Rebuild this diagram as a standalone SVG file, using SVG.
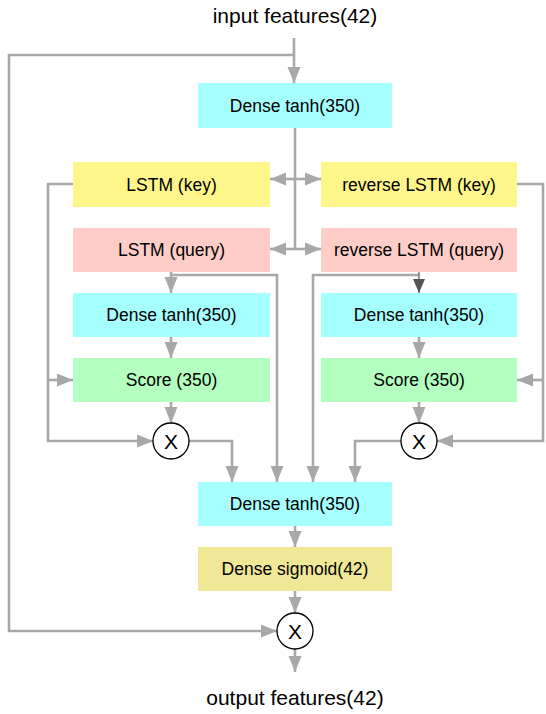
<svg xmlns="http://www.w3.org/2000/svg" width="546" height="714" viewBox="0 0 546 714">
<style>
text{font-family:"Liberation Sans",Arial,sans-serif;fill:#000;text-anchor:middle}
.lbl{font-size:17.5px}
.big{font-size:21px}
.cx{font-size:21px}
.c{fill:none;stroke:#a8a8a8;stroke-width:2.6;stroke-linejoin:miter}
.a{marker-end:url(#arr)}
.dk{fill:none;stroke:#555;stroke-width:1.2;marker-end:url(#arrd)}
.dense{fill:#a6ffff}
.key{fill:#fff68b}
.qry{fill:#ffcdc7}
.score{fill:#b3ffbf}
.sig{fill:#f0e896}
.circ{fill:#fff;stroke:#000;stroke-width:1.3}
</style>
<defs>
<marker id="arr" markerUnits="userSpaceOnUse" markerWidth="17" markerHeight="14" refX="16" refY="6.5" orient="auto">
<path d="M0,0 L16,6.5 L0,13 z" fill="#a8a8a8"/>
</marker>
<marker id="arrd" markerUnits="userSpaceOnUse" markerWidth="15" markerHeight="12" refX="14" refY="6" orient="auto">
<path d="M0,0 L14,6 L0,12 z" fill="#555"/>
</marker>
</defs>

<text class="big" x="295" y="23">input features(42)</text>
<text class="big" x="295" y="705">output features(42)</text>

<g id="connectors">
<path class="c a" d="M294,38 V83"/>
<path class="c a" d="M294,55 H9 V631 H277"/>
<path class="c" d="M295,128 V249"/>
<path class="c a" d="M295,179 H270"/>
<path class="c a" d="M295,179 H321"/>
<path class="c a" d="M295,249 H270"/>
<path class="c a" d="M295,249 H321"/>
<path class="c a" d="M73,184 H48 V441 H153"/>
<path class="c a" d="M48,380 H73"/>
<path class="c a" d="M517,184 H543 V441 H437"/>
<path class="c a" d="M543,380 H517"/>
<path class="c a" d="M171,272 V293"/>
<path class="c a" d="M171,275 H277 V482"/>
<path class="c a" d="M419,275 H313 V482"/>
<path class="dk" d="M419,272 V293"/>
<path class="c a" d="M171,337 V358"/>
<path class="c a" d="M419,337 V358"/>
<path class="c a" d="M171,402 V423"/>
<path class="c a" d="M419,402 V423"/>
<path class="c a" d="M189,441 H232 V482"/>
<path class="c a" d="M401,441 H355 V482"/>
<path class="c a" d="M295,526 V547"/>
<path class="c a" d="M295,591 V613"/>
<path class="c a" d="M295,649 V672"/>
</g>

<g id="dense_top"><rect class="dense" x="198" y="83" width="194" height="45"/><text class="lbl" x="295" y="111.5">Dense tanh(350)</text></g>
<g id="lstm_key"><rect class="key" x="73" y="162" width="197" height="45"/><text class="lbl" x="171.5" y="190.5">LSTM (key)</text></g>
<g id="rev_lstm_key"><rect class="key" x="321" y="162" width="196" height="45"/><text class="lbl" x="419" y="190.5">reverse LSTM (key)</text></g>
<g id="lstm_query"><rect class="qry" x="73" y="228" width="197" height="44"/><text class="lbl" x="171.5" y="256">LSTM (query)</text></g>
<g id="rev_lstm_query"><rect class="qry" x="321" y="228" width="196" height="44"/><text class="lbl" x="419" y="256">reverse LSTM (query)</text></g>
<g id="dense_left"><rect class="dense" x="73" y="293" width="197" height="44"/><text class="lbl" x="171.5" y="321">Dense tanh(350)</text></g>
<g id="dense_right"><rect class="dense" x="321" y="293" width="196" height="44"/><text class="lbl" x="419" y="321">Dense tanh(350)</text></g>
<g id="score_left"><rect class="score" x="73" y="358" width="197" height="44"/><text class="lbl" x="171.5" y="386">Score (350)</text></g>
<g id="score_right"><rect class="score" x="321" y="358" width="196" height="44"/><text class="lbl" x="419" y="386">Score (350)</text></g>
<g id="mul_left"><circle class="circ" cx="171" cy="441" r="18"/><text class="cx" x="171" y="448.5">X</text></g>
<g id="mul_right"><circle class="circ" cx="419" cy="441" r="18"/><text class="cx" x="419" y="448.5">X</text></g>
<g id="dense_bottom"><rect class="dense" x="198" y="482" width="194" height="44"/><text class="lbl" x="295" y="510">Dense tanh(350)</text></g>
<g id="dense_sigmoid"><rect class="sig" x="198" y="547" width="194" height="44"/><text class="lbl" x="295" y="575">Dense sigmoid(42)</text></g>
<g id="mul_out"><circle class="circ" cx="295" cy="631" r="18"/><text class="cx" x="295" y="638.5">X</text></g>
</svg>
